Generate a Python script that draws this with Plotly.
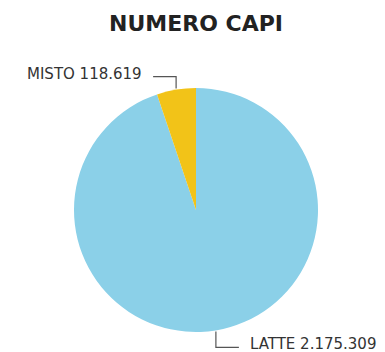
import math
import plotly.graph_objects as go

# Herd size by category
labels = ["LATTE", "MISTO"]
values = [2175309, 118619]
colors = ["#8BD0E8", "#F2C318"]
title_text = "NUMERO CAPI"

W, H = 385, 352
cx, cy, r = 196, 210, 122  # pie centre and radius (px)


def px(x, y):
    """pixel -> paper coordinates"""
    return x / W, 1 - y / H


def fmt(v):
    return f"{v:,}".replace(",", ".")


fig = go.Figure(
    go.Pie(
        labels=labels,
        values=values,
        sort=False,
        direction="clockwise",
        rotation=0,
        marker=dict(colors=colors, line=dict(width=0)),
        textinfo="none",
        hoverinfo="label+value",
        showlegend=False,
        domain=dict(x=[(cx - r) / W, (cx + r) / W],
                    y=[1 - (cy + r) / H, 1 - (cy - r) / H]),
    )
)

# leader lines + labels, anchored at each slice's mid-angle
total = sum(values)
shapes, annotations = [], []
start = 0.0
line_style = dict(color="#555555", width=1.2)
for lab, val in zip(labels, values):
    frac = val / total
    mid = (start + frac / 2) * 2 * math.pi  # clockwise from 12 o'clock
    start += frac
    ex = cx + (r + 1) * math.sin(mid)
    ey = cy - (r + 1) * math.cos(mid)
    if ey < cy:  # upper half: label up-left
        ly = ey - 12
        hx = ex - 23
        tx, anchor = hx - 9, "right"
    else:        # lower half: label down-right
        ly = ey + 16
        hx = ex + 23
        tx, anchor = hx + 9, "left"
    pts = [(ex, ey), (ex, ly), (hx, ly)]
    path = "M " + " L ".join(f"{px(x, y)[0]},{px(x, y)[1]}" for x, y in pts)
    shapes.append(dict(type="path", xref="paper", yref="paper", path=path,
                       line=line_style))
    ax, ay = px(tx, ly - 3)
    annotations.append(dict(
        x=ax, y=ay, xref="paper", yref="paper", showarrow=False,
        xanchor=anchor, yanchor="middle",
        text=f"{lab} {fmt(val)}",
        font=dict(family="DejaVu Sans", size=15, color="#333333"),
    ))

tx, ty = px(cx, 24)
annotations.append(dict(
    x=tx, y=ty, xref="paper", yref="paper", showarrow=False,
    xanchor="center", yanchor="middle",
    text=f"<b>{title_text}</b>",
    font=dict(family="DejaVu Sans", size=22, color="#222222"),
))

fig.update_layout(
    width=W, height=H,
    margin=dict(l=0, r=0, t=0, b=0),
    paper_bgcolor="white",
    plot_bgcolor="white",
    shapes=shapes,
    annotations=annotations,
)

fig.write_html("out.html")
